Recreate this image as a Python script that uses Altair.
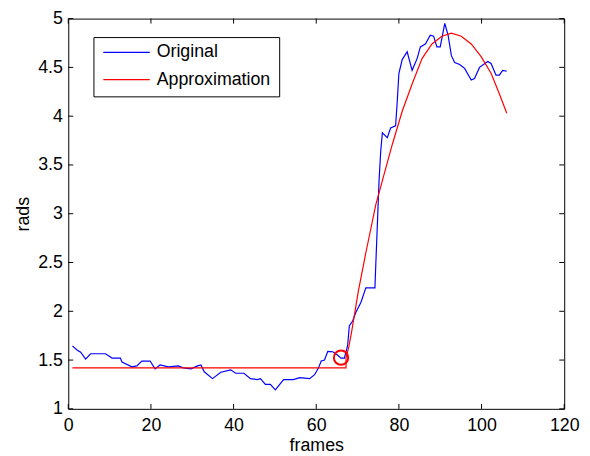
import altair as alt
import pandas as pd

# ---- data ----
orig_frames = [1.0, 2.2, 3.0, 4.2, 5.4, 9.0, 10.6, 12.6, 13.0, 15.4, 16.6, 17.8, 19.8, 21.0, 22.2,
               24.2, 26.6, 27.8, 29.7, 31.3, 32.1, 32.9, 34.9, 36.9, 39.3, 40.5, 42.5, 44.1, 45.7,
               46.5, 47.7, 48.9, 50.1, 52.1, 54.5, 56.0, 58.4, 59.6, 60.5, 61.2, 62.0, 62.8, 64.0,
               65.2, 66.0, 66.8, 67.6, 68.0, 68.8, 69.6, 70.8, 72.0, 74.2, 74.4, 74.8, 75.2, 75.6,
               76.0, 77.2, 78.0, 79.2, 79.6, 80.0, 80.8, 82.0, 83.2, 84.4, 85.2, 86.4, 87.6, 88.4,
               89.2, 90.0, 91.1, 91.9, 92.7, 93.5, 94.7, 95.9, 97.5, 98.3, 99.5, 101.5, 102.3,
               103.5, 104.3, 105.1, 106.1]
orig_rads = [1.645, 1.60, 1.58, 1.51, 1.565, 1.565, 1.52, 1.52, 1.48, 1.43, 1.44, 1.49, 1.49, 1.41,
             1.45, 1.43, 1.44, 1.42, 1.41, 1.44, 1.45, 1.38, 1.31, 1.375, 1.40, 1.365, 1.365, 1.31,
             1.30, 1.31, 1.25, 1.25, 1.195, 1.30, 1.30, 1.32, 1.31, 1.35, 1.415, 1.49, 1.50, 1.59,
             1.585, 1.55, 1.52, 1.52, 1.65, 1.85, 1.90, 1.99, 2.09, 2.24, 2.24, 2.47, 2.90, 3.34,
             3.64, 3.83, 3.78, 3.88, 3.90, 4.15, 4.44, 4.58, 4.66, 4.47, 4.59, 4.71, 4.74, 4.83,
             4.82, 4.71, 4.71, 4.95, 4.83, 4.62, 4.55, 4.53, 4.49, 4.37, 4.385, 4.50, 4.56, 4.54,
             4.42, 4.42, 4.47, 4.46]

approx_frames = [1.0, 67.2, 67.2, 67.9, 68.6, 70.2, 72.0, 74.4, 76.0, 78.4, 80.8, 83.2, 85.6, 88.0,
                 90.4, 92.7, 95.1, 97.5, 99.9, 102.3, 104.3, 106.1]
approx_rads = [1.42, 1.42, 1.52, 1.64, 1.80, 2.21, 2.60, 3.09, 3.34, 3.71, 4.05, 4.33, 4.59, 4.74,
               4.82, 4.85, 4.82, 4.74, 4.61, 4.44, 4.23, 4.03]

knot_frame = [66.0]
knot_rads = [1.525]

series_names = ["Original", "Approximation"]
series_colors = ["#0000ff", "#ff0000"]

x_ticks = [0, 20, 40, 60, 80, 100, 120]
y_ticks = [1, 1.5, 2, 2.5, 3, 3.5, 4, 4.5, 5]

# ---- layout ----
W, H = 502, 395
TICK = 5
FONT = "Liberation Sans"
FS = 18

orig = pd.DataFrame({"frame": orig_frames, "rads": orig_rads,
                     "series": series_names[0], "i": list(range(len(orig_frames)))})
approx = pd.DataFrame({"frame": approx_frames, "rads": approx_rads,
                       "series": series_names[1], "i": list(range(len(approx_frames)))})
knot = pd.DataFrame({"frame": knot_frame, "rads": knot_rads})
xt = pd.DataFrame({"frame": x_ticks})
yt = pd.DataFrame({"rads": y_ticks})

xscale = alt.Scale(domain=[0, 120], nice=False, zero=False)
yscale = alt.Scale(domain=[1, 5], nice=False, zero=False)

legend = alt.Legend(title=None, orient="none", legendX=25.5, legendY=18.7,
                    symbolType="stroke", symbolSize=2209, symbolStrokeWidth=1.2,
                    symbolOffset=1, clipHeight=15, rowPadding=8.5, padding=8, labelOffset=6,
                    labelFont=FONT, labelFontSize=FS, labelColor="black",
                    strokeColor="black", fillColor="white", cornerRadius=0)
color = alt.Color("series:N", scale=alt.Scale(domain=series_names, range=series_colors),
                  legend=legend)

x_main = alt.Axis(orient="bottom", values=x_ticks, ticks=False, tickSize=0, labelPadding=8,
                  labelFlush=False, labelOverlap=False, domain=False, grid=False,
                  labelFont=FONT, labelFontSize=FS, labelColor="black",
                  title="frames", titleFont=FONT, titleFontSize=FS, titleFontWeight="normal",
                  titleColor="black", titleY=42, titleBaseline="alphabetic")
y_main = alt.Axis(orient="left", values=y_ticks, format="~g", ticks=False, tickSize=0,
                  labelPadding=6, labelFlush=False, labelOverlap=False, domain=False,
                  grid=False, labelFont=FONT, labelFontSize=FS, labelColor="black",
                  title="rads", titleFont=FONT, titleFontSize=FS, titleFontWeight="normal",
                  titleColor="black", titleX=-40, titleBaseline="alphabetic")

X = alt.X("frame:Q", scale=xscale, axis=x_main)
Y = alt.Y("rads:Q", scale=yscale, axis=y_main)

blue = alt.Chart(orig).mark_line(strokeWidth=1.2).encode(
    x=X, y=Y, order="i:Q", color=color)

red = alt.Chart(approx).mark_line(strokeWidth=1.2).encode(
    x=X, y=Y, order="i:Q", color=color)

circ = alt.Chart(knot).mark_point(shape="circle", filled=False, color="#ff0000",
                                  strokeWidth=2, size=210, opacity=1).encode(x=X, y=Y)

# inward tick marks (MATLAB style) at the tick values, through the shared scales
tick_style = dict(color="black", strokeWidth=1)
xb = alt.Chart(xt).mark_rule(**tick_style).encode(
    x=X, y=alt.value(H), y2=alt.value(H - TICK))
xtop = alt.Chart(xt).mark_rule(**tick_style).encode(
    x=X, y=alt.value(0), y2=alt.value(TICK))
yl = alt.Chart(yt).mark_rule(**tick_style).encode(
    y=Y, x=alt.value(0), x2=alt.value(TICK))
yr = alt.Chart(yt).mark_rule(**tick_style).encode(
    y=Y, x=alt.value(W), x2=alt.value(W - TICK))

chart = alt.layer(blue, xb, xtop, yl, yr, red, circ).properties(
    width=W, height=H,
    padding={"left": 61, "top": 8, "right": 18, "bottom": 46},
    autosize=alt.AutoSizeParams(type="none"),
    background="white",
).configure_view(stroke="black", strokeWidth=1)

chart.save("out.html", embed_options={"renderer": "svg", "actions": False})
